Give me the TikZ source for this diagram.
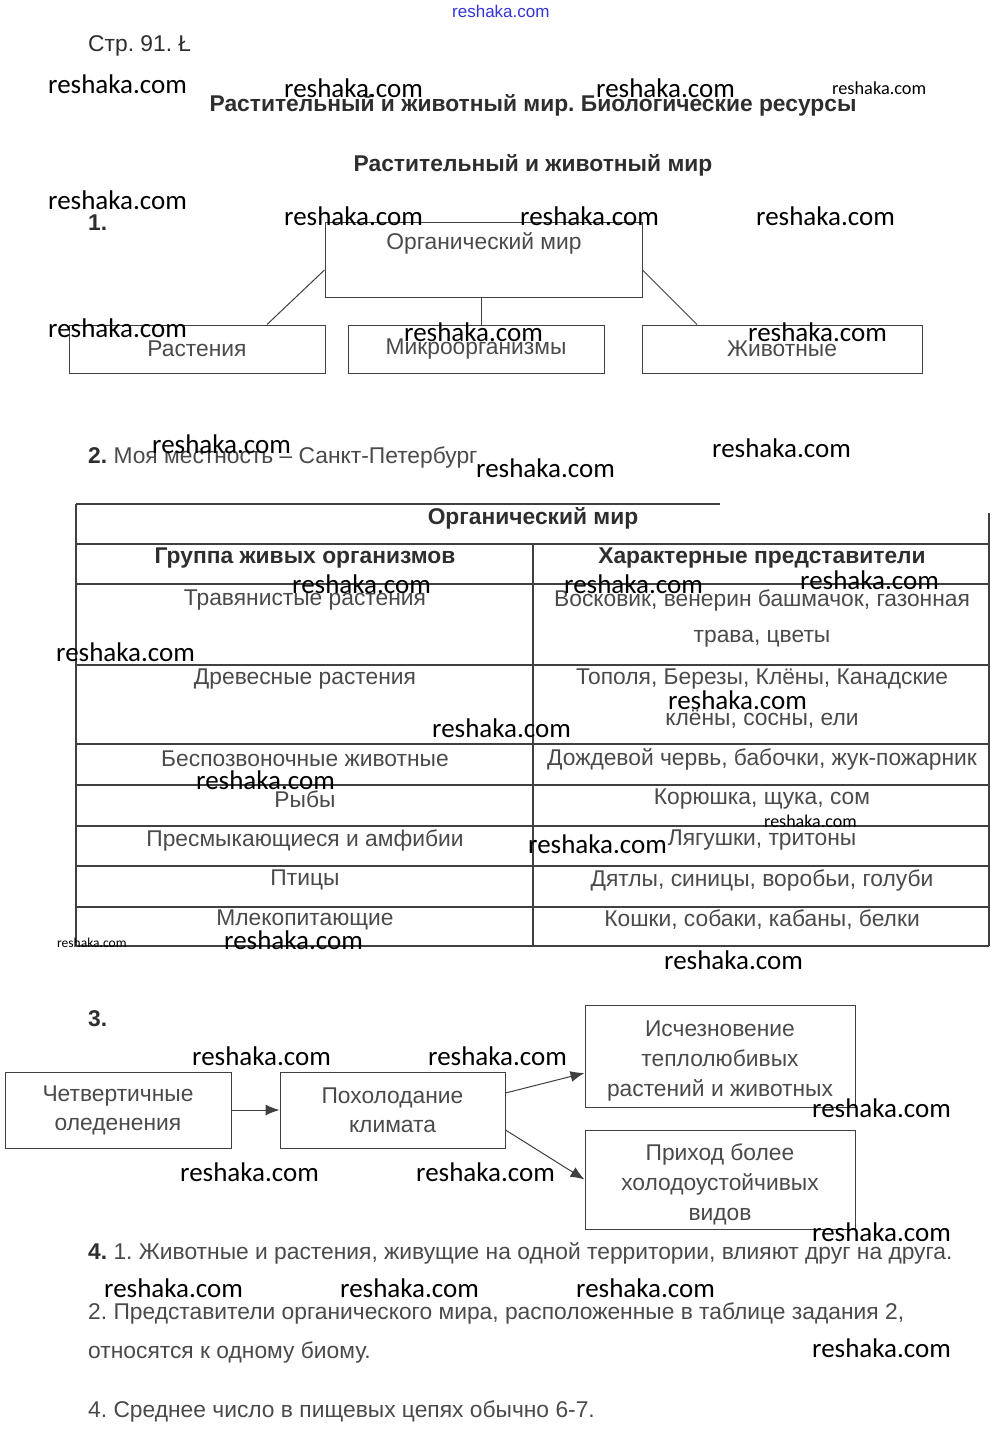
\documentclass[tikz,border=0pt]{standalone}
\usepackage{fontspec}
\setmainfont{Liberation Sans}
\newfontfamily\wmfont{Carlito}
\usetikzlibrary{arrows.meta}
\usepackage{xcolor}
\definecolor{txtgray}{HTML}{4A4A4A}
\definecolor{hdgray}{HTML}{2E2E2E}
\definecolor{linegray}{HTML}{404040}
\definecolor{wmblue}{HTML}{3434D8}
\frenchspacing
\tikzset{
  txt/.style={font=\fontsize{22.8}{26}\selectfont, text=txtgray, inner sep=0pt},
  hd/.style={font=\fontsize{22.8}{26}\selectfont\bfseries, text=hdgray, inner sep=0pt},
  box/.style={draw=linegray, line width=1pt},
  tbl/.style={draw=linegray, line width=1.4pt},
  wm/.style={font=\wmfont\fontsize{27}{28}\selectfont, anchor=west, inner sep=0pt},
}

\begin{document}
\frenchspacing
\begin{tikzpicture}[x=1pt, y=-1pt, >={Latex[length=14pt,width=11pt]}]
\useasboundingbox[fill=white] (0,0) rectangle (1000,1437);
% header
\node[txt, text=hdgray, anchor=west] (page) at (88,46) {Стр. 91. Ł};
\node[hd] (title) at (533,105) {Растительный и животный мир. Биологические ресурсы};
\node[hd] (subtitle) at (533,165) {Растительный и животный мир};
% task 1
\node[hd, anchor=west] (n1) at (88,223) {1.};
\node[box, minimum width=317pt, minimum height=75pt] (org) at (483.5,259.5) {};
\node[txt] (orgt) at (484,243) {Органический мир};
\node[box, minimum width=256pt, minimum height=48pt] (plants) at (197,349) {};
\node[txt] at (plants) {Растения};
\node[box, minimum width=256pt, minimum height=48pt] (micro) at (476,349) {};
\node[txt] at (micro) {Микроорганизмы};
\node[box, minimum width=280pt, minimum height=48pt] (anim) at (782,349) {};
\node[txt] at (anim) {Животные};
\draw[linegray, line width=1pt] ([yshift=-10.5pt]org.west) -- ([xshift=70pt]plants.north);
\draw[linegray, line width=1pt] ([xshift=-2pt]org.south) -- ([xshift=-2pt]org.south |- micro.north);
\draw[linegray, line width=1pt] ([yshift=-10.5pt]org.east) -- ([xshift=-85pt]anim.north);
% task 2
\node[txt, anchor=west] (n2) at (88,458) {\textbf{\color{hdgray}2.} Моя местность -- Санкт-Петербург};
% table
\draw[tbl] (76,504) -- (720,504);
\draw[tbl] (76,504) -- (76,946);
\draw[tbl] (989,513) -- (989,946);
\draw[tbl] (533,544) -- (533,946);
\foreach \yy in {544,584,665,744,785,826,866,907,946}
  \draw[tbl] (76,\yy) -- (989,\yy);
\node[hd] (thead) at (533,518) {Органический мир};
\node[hd] (tl) at (305,558) {Группа живых организмов};
\node[hd] (tr) at (762,558) {Характерные представители};
\foreach \yy/\grp/\rep in {
  600/Травянистые растения/{Восковик, венерин башмачок, газонная},
  679/Древесные растения/{Тополя, Березы, Клёны, Канадские},
  759/Беспозвоночные животные/{Дождевой червь, бабочки, жук-пожарник},
  799/Рыбы/{Корюшка, щука, сом},
  840/Пресмыкающиеся и амфибии/{Лягушки, тритоны},
  880/Птицы/{Дятлы, синицы, воробьи, голуби},
  920/Млекопитающие/{Кошки, собаки, кабаны, белки}}
  {\node[txt] at (305,\yy) {\grp};
   \node[txt] at (762,\yy) {\rep};}
\node[txt] at (762,639) {трава, цветы};
\node[txt] at (762,719) {клёны, сосны, ели};
% task 3
\node[hd, anchor=west] (n3) at (88,1019) {3.};
\node[box, minimum width=226pt, minimum height=76pt, txt, align=center] (glac) at (118,1110)
  {Четвертичные\\[3pt]оледенения};
\node[box, minimum width=225pt, minimum height=76pt, txt, align=center] (cool) at (392.5,1110)
  {Похолодание\\[3pt]климата};
\node[box, minimum width=270pt, minimum height=102pt, txt, align=center] (loss) at (720,1056)
  {\rule{0pt}{26pt}Исчезновение\\[4pt]теплолюбивых\\[4pt]растений и животных};
\node[box, minimum width=270pt, minimum height=99pt, txt, align=center] (come) at (720,1179.5)
  {\rule{0pt}{26pt}Приход более\\[4pt]холодоустойчивых\\[4pt]видов};
\draw[->, linegray, line width=1pt] (glac.east) -- (cool.west);
\draw[->, linegray, line width=1pt] ([yshift=17pt]cool.east) -- ([yshift=-17pt]loss.west);
\draw[->, linegray, line width=1pt] ([yshift=-20pt]cool.east) -- (come.west);
% task 4
\node[txt, anchor=west] (n4a) at (88,1253) {\textbf{\color{hdgray}4.} 1. Животные и растения, живущие на одной территории, влияют друг на друга.};
\node[txt, anchor=west] (n4b) at (88,1313) {2. Представители органического мира, расположенные в таблице задания 2,};
\node[txt, anchor=west] (n4c) at (88,1352) {относятся к одному биому.};
\node[txt, anchor=west] (n4d) at (88,1411) {4. Среднее число в пищевых цепях обычно 6-7.};
% watermarks
\foreach \xx/\yy in {48/84,284/88,596/88,48/200,284/216,520/216,756/216,48/328,404/332,748/332,
  152/444,712/448,476/468,292/584,564/584,800/580,56/652,668/700,432/728,196/780,528/844,
  224/940,664/960,192/1056,428/1056,812/1108,180/1172,416/1172,812/1232,104/1288,340/1288,
  576/1288,812/1348}
  \node[wm] at (\xx,\yy) {reshaka.com};
\foreach \xx/\yy/\sz in {832/88/18.3,764/821/18,57/943/13.5}
  \node[wm, font=\wmfont\fontsize{\sz}{\sz}\selectfont] at (\xx,\yy) {reshaka.com};
\node[wm, font=\fontsize{17}{17}\selectfont, text=wmblue] at (452,11) {reshaka.com};
\end{tikzpicture}
\end{document}
